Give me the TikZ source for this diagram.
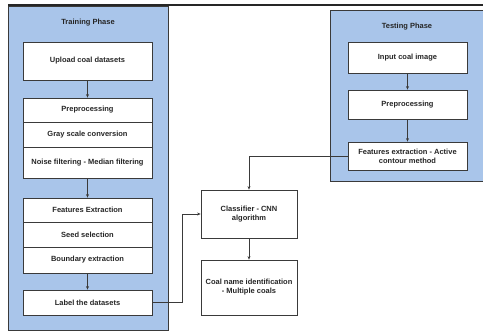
\documentclass[tikz,border=0pt]{standalone}
\usepackage{fontspec}
\setmainfont{Liberation Sans}
\usetikzlibrary{arrows.meta}
\definecolor{phase}{HTML}{A9C5EA}
\definecolor{edge}{HTML}{3A3A3A}
\tikzset{
  phasebox/.style={draw=edge, line width=0.8pt, fill=phase},
  box/.style={draw=edge, line width=0.8pt, fill=white, inner sep=1pt, align=center,
    font=\fontsize{7.5}{9}\selectfont\bfseries, text=black!85},
  ttl/.style={font=\fontsize{7.5}{9}\selectfont\bfseries, text=black!85},
  conn/.style={draw=edge, line width=0.6pt, -{Stealth[length=3.5pt,width=3pt]}},
}
\begin{document}
\begin{tikzpicture}[x=1pt,y=-1pt]
\useasboundingbox (0,0) rectangle (483,331);
% phases
\draw[phasebox] (8,6) rectangle (168,330);
\draw[phasebox] (330,10) rectangle (490,181);
\draw[black!85, line width=2pt] (8,5) -- (490,5);
\node[ttl] (tp) at (88,23) {Training Phase};
\node[ttl] (sp) at (407,27) {Testing Phase};
% training
\node[box, minimum width=129pt, minimum height=38pt] (up) at (87.5,61) {Upload coal datasets};
\node[box, minimum width=129pt, minimum height=24pt] (pre) at (87.5,110) {Preprocessing};
\node[box, minimum width=129pt, minimum height=25pt] (gray) at (87.5,134.5) {Gray scale conversion};
\node[box, minimum width=129pt, minimum height=31pt] (noise) at (87.5,162.5) {Noise filtering - Median filtering};
\node[box, minimum width=129pt, minimum height=24pt] (fe) at (87.5,210) {Features Extraction};
\node[box, minimum width=129pt, minimum height=25pt] (seed) at (87.5,234.5) {Seed selection};
\node[box, minimum width=129pt, minimum height=26pt] (bnd) at (87.5,260) {Boundary extraction};
\node[box, minimum width=129pt, minimum height=25pt] (lab) at (87.5,302.5) {Label the datasets};
% testing
\node[box, minimum width=119pt, minimum height=31pt] (inp) at (407.5,57.5) {Input coal image};
\node[box, minimum width=119pt, minimum height=29pt] (pre2) at (407.5,104.5) {Preprocessing};
\node[box, minimum width=119pt, minimum height=28pt] (fe2) at (407.5,156) {Features extraction - Active\\contour method};
% center
\node[box, minimum width=96pt, minimum height=48pt] (cls) at (249,214) {Classifier - CNN\\algorithm};
\node[box, minimum width=96pt, minimum height=55pt] (coal) at (249,287.5) {Coal name identification\\- Multiple coals};
% connectors
\draw[conn] (up.south) -- (pre.north);
\draw[conn] (noise.south) -- (fe.north);
\draw[conn] (bnd.south) -- (lab.north);
\draw[conn] (inp.south) -- (pre2.north);
\draw[conn] (pre2.south) -- (fe2.north);
\draw[conn] (lab.east) -| (182,214) -- (cls.west);
\draw[conn] (fe2.west) -| (cls.north);
\draw[conn] (cls.south) -- (coal.north);
\end{tikzpicture}
\end{document}
